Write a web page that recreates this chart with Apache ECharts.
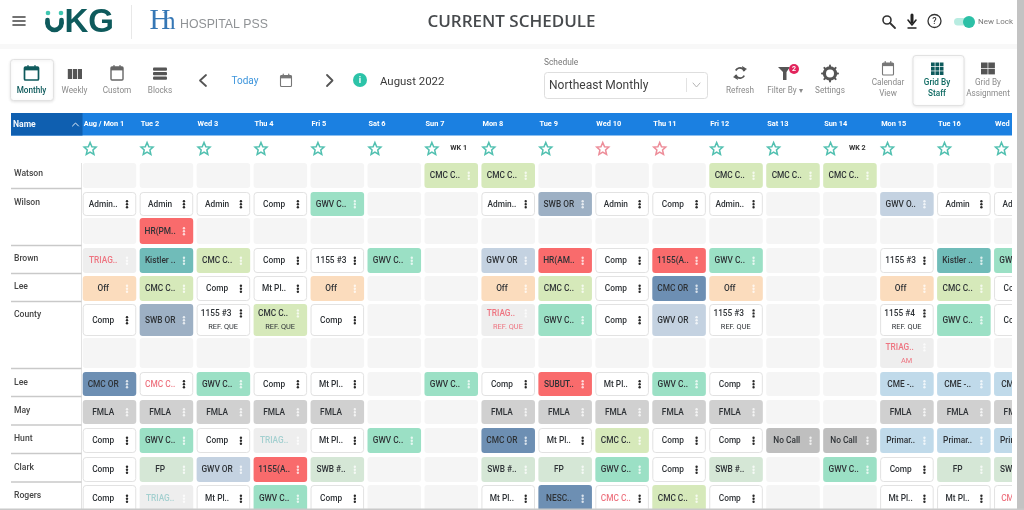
<!DOCTYPE html>
<html><head><meta charset="utf-8">
<style>html,body{margin:0;padding:0;background:#fff;overflow:hidden}#c{width:1024px;height:510px;filter:blur(.45px)}</style>
<script src="https://cdn.jsdelivr.net/npm/echarts@6/dist/echarts.min.js"></script>
</head><body><div id="c"></div>
<script>
// ---------- data ----------
const dayLabels = ['Aug / Mon 1','Tue 2','Wed 3','Thu 4','Fri 5','Sat 6','Sun 7','Mon 8','Tue 9','Wed 10','Thu 11','Fri 12','Sat 13','Sun 14','Mon 15','Tue 16','Wed 17'];
const redStarDays = [9,10];
const weekLabels = [[6,'WK 1'],[13,'WK 2']];
const staffNames = ['Watson','Wilson','','Brown','Lee','County','','Lee','May','Hunt','Clark','Rogers'];
// "!" = flagged red text, "~" = faded teal text
const watson  = ['','','','','','','CMC C..','CMC C..','','','','CMC C..','CMC C..','CMC C..','','',''];
const wilson  = ['Admin..','Admin','Admin','Comp','GWV C..','','','Admin..','SWB OR','Admin','Comp','Admin..','','','GWV O..','Admin','Admin'];
const wilson2 = ['','HR(PM..','','','','','','','','','','','','','','',''];
const brown   = ['!TRIAG..','Kistler ..','CMC C..','Comp','1155 #3','GWV C..','','GWV OR','HR(AM..','Comp','1155(A..','GWV C..','','','1155 #3','Kistler ..','GWV C..'];
const lee     = ['Off','CMC C..','Comp','Mt Pl..','Off','','','Off','CMC C..','Comp','CMC OR','Off','','','Off','CMC C..','Comp'];
const county  = ['Comp','SWB OR','1155 #3|REF. QUE','CMC C..|REF. QUE','Comp','','','!TRIAG..|REF. QUE','GWV C..','Comp','GWV OR','1155 #3|REF. QUE','','','1155 #4|REF. QUE','GWV C..','Comp'];
const county2 = ['','','','','','','','','','','','','','','!TRIAG..|AM','',''];
const lee2    = ['CMC OR','!CMC C..','GWV C..','Comp','Mt Pl..','','GWV C..','Comp','SUBUT..','Mt Pl..','GWV C..','Comp','','','CME -..','CME -..','CME -..'];
const may     = ['FMLA','FMLA','FMLA','FMLA','FMLA','','','FMLA','FMLA','FMLA','FMLA','FMLA','','','FMLA','FMLA','FMLA'];
const hunt    = ['Comp','GWV C..','Comp','~TRIAG..','Mt Pl..','GWV C..','','CMC OR','Mt Pl..','CMC C..','Comp','Comp','No Call','No Call','Primar..','Primar..','Primar..'];
const clark   = ['Comp','FP','GWV OR','1155(A..','SWB #..','','','SWB #..','FP','GWV C..','Comp','SWB #..','','GWV C..','Comp','FP','SWB #..'];
const rogers  = ['Comp','~TRIAG..','Mt Pl..','GWV C..','Comp','','','Mt Pl..','NESC..','!CMC C..','CMC C..','Comp','','','Mt Pl..','Mt Pl..','!CME -..'];
const scheduleRows = [watson,wilson,wilson2,brown,lee,county,county2,lee2,may,hunt,clark,rogers];

// ---------- layout / style ----------
const GT = 135;
const rowBands = [[163,188],[192,216],[218,244],[248,273],[276,301],[304,336],[338,368],[372,396],[400,424],[428,453],[457,482],[485,512]];
const sepY = [188.5,245.5,273.5,301.5,368.5,396.5,425,453.5,482];
const F = 'Roboto, sans-serif';
const fills = [
 [/^GWV C/,'#9be0c5'],[/^(HR|1155\(|SUBUT)/,'#f96b6c'],[/^Kistler/,'#70bcb9'],[/^CMC C/,'#d6e9ba'],
 [/^Off/,'#fbdcbd'],[/^SWB OR/,'#9db0c4'],[/^GWV O/,'#c4d2e1'],[/^(CMC OR|NESC)/,'#6d8fb3'],
 [/^FMLA/,'#d0d0d0'],[/^(FP|SWB #)/,'#d5e7d6'],[/^No Call/,'#bfbfbf'],[/^(CME|Primar)/,'#c0daea'],[/^TRIAG/,'#eeeeee']
];
function fillFor(t){ for(const f of fills) if(f[0].test(t)) return f[1]; return '#ffffff'; }

const cellData=[];
scheduleRows.forEach((r,ri)=>r.forEach((t,ci)=>cellData.push([ci,ri,t])));

function renderCell(params,api){
  const i=params.dataIndex, [col,row,raw]=cellData[i];
  const band=rowBands[row];
  const p0=api.coord([col,band[0]-GT]), p1=api.coord([col+1,band[1]-GT]);
  const x=p0[0], y=p0[1], w=p1[0]-p0[0]-3.4, h=p1[1]-p0[1];
  const kids=[];
  if(raw===''){
    kids.push({type:'rect',shape:{x,y,width:w,height:h,r:3},style:{fill:'#f5f5f5'}});
    return {type:'group',children:kids};
  }
  const mark=raw[0]==='!'?'red':raw[0]==='~'?'teal':null;
  const parts=(mark?raw.slice(1):raw).split('|');
  const triage=/^TRIAG/.test(parts[0]);
  const fill=(mark==='red'&&!triage)?'#ffffff':fillFor(parts[0]);
  const plain=fill==='#ffffff';
  const color=mark==='red'?'#ee7480':mark==='teal'?'#a4d0d0':'#2e3236';
  kids.push({type:'rect',shape:{x:x+(plain?.5:0),y:y+(plain?.5:0),width:w-(plain?1:0),height:h-(plain?1:0),r:3},
    style:{fill,stroke:plain?'#e2e2e2':null,lineWidth:1}});
  const cy=parts.length>1?y+10:y+h/2+.8;
  kids.push({type:'text',style:{x:x+(parts.length>1?19.5:20.5),y:cy,text:parts[0],fill:color,fontSize:8.3,fontFamily:F,fontWeight:500,align:'center',verticalAlign:'middle'}});
  if(parts[1]) kids.push({type:'text',style:{x:x+26.5,y:y+23.5,text:parts[1],fill:color,fontSize:7.4,fontFamily:F,align:'center',verticalAlign:'middle'}});
  const dot=plain?'#2a2a2a':'rgba(255,255,255,.75)';
  [-3,0,3].forEach(d=>kids.push({type:'circle',shape:{cx:x+44.3,cy:cy-.6+d,r:1.2},style:{fill:dot}}));
  return {type:'group',children:kids};
}
function renderName(params,api){
  const ri=params.dataIndex, band=rowBands[ri];
  const p=api.coord([0,band[0]-GT]);
  return {type:'text',style:{x:14,y:p[1]+10.8,text:staffNames[ri],fill:'#454545',fontSize:8.6,fontFamily:F,fontWeight:500,align:'left',verticalAlign:'middle'}};
}
function renderWeek(params,api){
  const w=weekLabels[params.dataIndex];
  const p=api.coord([w[0]+.6,12.8]);
  return {type:'text',style:{x:p[0],y:p[1],text:w[1],fill:'#333',fontSize:7.2,fontFamily:F,fontWeight:700,align:'center',verticalAlign:'middle'}};
}

// ---------- chrome ----------
const g=[];
function R(x,y,w,h,fill,o={}){g.push({type:'rect',silent:true,z:o.z??-1,shape:{x,y,width:w,height:h,r:o.r||0},style:{fill,stroke:o.stroke||null,lineWidth:o.lw||1,shadowBlur:o.sb||0,shadowColor:o.sc||'transparent',shadowOffsetY:o.sy||0}});}
function T(x,y,text,size,fill,o={}){g.push({type:'text',silent:true,z:o.z??5,style:{x,y,text,fill,fontSize:size,fontFamily:o.f||F,fontWeight:o.w||400,align:o.a||'center',verticalAlign:'middle'}});}
function L(pts,stroke,lw=1,o={}){g.push({type:'polyline',silent:true,z:o.z??5,shape:{points:pts},style:{stroke,lineWidth:lw,fill:null,lineCap:'round',lineJoin:'round'}});}
function C(cx,cy,r,fill,o={}){g.push({type:'circle',silent:true,z:o.z??5,shape:{cx,cy,r},style:{fill:fill,stroke:o.stroke||null,lineWidth:o.lw||1}});}
function P(pts,fill){g.push({type:'polygon',silent:true,z:5,shape:{points:pts},style:{fill}});}
function cal(cx,cy,c,w,h,lw){R(cx-w/2,cy-h/2,w,h,'none',{stroke:c,lw,r:1,z:5});R(cx-w/2,cy-h/2,w,h*.26,c,{z:5});
  L([[cx-w*.25,cy-h/2-1.5],[cx-w*.25,cy-h/2+1]],c,1.2);L([[cx+w*.25,cy-h/2-1.5],[cx+w*.25,cy-h/2+1]],c,1.2);}

// top bar
R(0,44,1024,5,'#f8f8f8');
[17,21,25].forEach(y=>L([[13,y],[25,y]],'#444',1.6));
g.push({type:'arc',silent:true,z:5,shape:{cx:54.5,cy:23,r:7,startAngle:0,endAngle:Math.PI,clockwise:true},style:{stroke:'#0e5a5c',lineWidth:4.6,fill:null,lineCap:'round'}});
L([[47.5,20],[47.5,23]],'#0e5a5c',4.6);L([[61.5,20],[61.5,23]],'#0e5a5c',4.6);
C(48,13,2.3,'#3fc6b0');C(61,13,2.3,'#3fc6b0');
T(64.5,22.5,'KG',33,'#0e5a5c',{a:'left',w:700,f:'Liberation Sans'});
R(131,5,1,34,'#e8e8e8',{z:5});
T(149.5,21.5,'H',29,'#3577b5',{a:'left',f:'Liberation Serif'});
T(163,22.5,'h',25,'#3577b5',{a:'left',f:'Liberation Serif'});
T(180,25,'HOSPITAL PSS',12.3,'#8f9295',{a:'left',f:'Liberation Sans'});
T(511.5,22,'CURRENT SCHEDULE',17,'#474a4d',{w:600,f:'Open Sans'});
// right icons
C(887,20,4,'none',{stroke:'#333',lw:1.6});L([[890,23],[895,28]],'#333',1.8);
L([[912,15],[912,22]],'#222',3);L([[908,20],[912,25],[916,20]],'#222',1.6);L([[908,28],[916,28]],'#222',1.4);
C(934.5,21,6.5,'none',{stroke:'#333',lw:1.3});T(934.5,21.5,'?',9,'#333',{w:500});
R(954,18,20,7.5,'#b8ece1',{r:3.7,z:5});C(969,22,6,'#2cc0a6');
T(978,22,'New Lock',8,'#7a7a7a',{a:'left'});
// view buttons
R(10.5,59.5,43,41,'#fff',{stroke:'#e2e2e2',r:3,sb:3,sc:'rgba(0,0,0,.10)',sy:1,z:1});
cal(31.5,73.5,'#0e5a5c',14,13,1.7);
T(31.5,90.5,'Monthly',8.2,'#0e5a5c',{w:500});
[68,73,78].forEach(x=>R(x-.2,69,4.2,10,'#555',{z:5}));
T(74.5,90.5,'Weekly',8.2,'#8a8a8a');
cal(117,73.5,'#666',12,13,1.4);T(117,90.5,'Custom',8.2,'#8a8a8a');
[69,73.5,78].forEach(y=>R(153,y-1.5,14,3.2,'#555',{z:5,r:1}));
T(160,90.5,'Blocks',8.2,'#8a8a8a');
L([[206,75],[200,80.5],[206,86]],'#555',1.8);
T(245,81,'Today',10,'#3d95dc');
cal(286,81,'#777',11,11,1.1);
L([[327,75],[332.5,80.5],[327,86]],'#555',1.8);
C(360,80,7,'#2cc3a8');T(360,80.5,'i',9,'#fff',{w:700});
T(380,82,'August 2022',11.4,'#3a3a3a',{a:'left'});
// schedule select
T(544,63,'Schedule',8.4,'#777',{a:'left'});
R(544.5,72.5,163,26,'#fff',{stroke:'#dedede',r:3,z:1});
T(549,85.5,'Northeast Monthly',12,'#3e3e3e',{a:'left'});
R(686,78,1,14,'#e2e2e2',{z:5});
L([[693,83],[696.5,87],[700,83]],'#b5b5b5',1);
// action icons
g.push({type:'arc',silent:true,z:5,shape:{cx:740,cy:73,r:5,startAngle:-2.6,endAngle:-.4,clockwise:true},style:{stroke:'#555',lineWidth:1.8,fill:null}});
g.push({type:'arc',silent:true,z:5,shape:{cx:740,cy:73,r:5,startAngle:.55,endAngle:2.75,clockwise:true},style:{stroke:'#555',lineWidth:1.8,fill:null}});
P([[742,66],[747,69],[743,71.5]],'#555');P([[738,80],[733,77],[737,74.5]],'#555');
T(740,91,'Refresh',8.2,'#8a8a8a');
P([[778,67],[790,67],[786.5,72],[786.5,80],[783,80],[783,72]],'#555');
C(794,69,5,'#e2245c');T(794,69.3,'2',7,'#fff',{w:700});
T(785,91,'Filter By ▾',8.2,'#8a8a8a');
C(830,73.5,5.6,'none',{stroke:'#555',lw:3.2});
for(let a=0;a<8;a++){const c=Math.cos(a*Math.PI/4),s=Math.sin(a*Math.PI/4);L([[830+6*c,73.5+6*s],[830+8*c,73.5+8*s]],'#555',2);}
T(830,91,'Settings',8.2,'#8a8a8a');
cal(888,69,'#777',11,12,1.1);T(888,83,'Calendar',8.2,'#8a8a8a');T(888,94,'View',8.2,'#8a8a8a');
R(913,55.5,51,50,'#fff',{stroke:'#e2e2e2',r:3,sb:3,sc:'rgba(0,0,0,.08)',sy:1,z:1});
for(let i=0;i<3;i++)for(let j=0;j<3;j++)R(931+i*4.4,62.5+j*4.4,3.7,3.7,'#0e5a5c',{z:5});
T(937,83,'Grid By',8.2,'#0e6a62',{w:500});T(937,94,'Staff',8.2,'#0e6a62',{w:500});
for(let i=0;i<2;i++)for(let j=0;j<2;j++)R(981+i*7.3,62.5+j*6.3,6.6,5.6,'#555',{z:5});
T(988,83,'Grid By',8.2,'#8a8a8a');T(988,94,'Assignment',8.2,'#8a8a8a');
// table head
R(11,113,1001,22.5,'#1b80e1');
R(11,113,71.5,22.5,'#0f5fb0',{z:0});
T(13,124.5,'Name',8.6,'#f2f7fc',{a:'left',w:700});
L([[72.5,126],[75.5,123],[78.5,126]],'#e8f1fa',1);
R(81,163,1,347,'#e2e2e2',{z:1});
sepY.forEach(y=>R(11,y-.7,70.5,1.4,'#c9c9c9',{z:1}));
// right and bottom edges
R(1012,100,12,410,'#fff',{z:50});
R(1017,0,7,510,'#c3c3c3',{z:50});
R(0,508.5,1024,1.5,'#c9c9c9',{z:50});

const chart=echarts.init(document.getElementById('c'),null,{renderer:'canvas'});
chart.setOption({
  animation:false,
  backgroundColor:'#fff',
  graphic:{elements:g},
  grid:{left:82.7,right:12,top:GT,bottom:0,containLabel:false},
  xAxis:{type:'value',position:'top',min:0,max:16.315,interval:1,splitLine:{show:false},axisLine:{show:false},axisTick:{show:false},
    axisLabel:{show:true,color:'#fff',fontSize:7.4,fontWeight:700,fontFamily:F,align:'left',margin:7,padding:[0,0,0,1],showMaxLabel:false,hideOverlap:false,
      formatter:v=>dayLabels[v]||''}},
  yAxis:{type:'value',inverse:true,min:0,max:375,show:false},
  series:[
    {type:'custom',name:'cells',coordinateSystem:'cartesian2d',silent:true,renderItem:renderCell,data:cellData.map(d=>[d[0],d[1]]),encode:{x:0,y:1},z:3},
    {type:'custom',name:'names',coordinateSystem:'cartesian2d',silent:true,renderItem:renderName,data:staffNames.map((n,i)=>[0,i]),z:3},
    {type:'custom',name:'weeks',coordinateSystem:'cartesian2d',silent:true,renderItem:renderWeek,data:weekLabels.map(w=>[w[0],0]),z:3},
    {type:'scatter',name:'stars',silent:true,clip:false,symbol:'path://M12 2 L15 9 L22 9.5 L16.7 14.2 L18.4 21.5 L12 17.6 L5.6 21.5 L7.3 14.2 L2 9.5 L9 9 Z',symbolSize:12,z:3,
      data:dayLabels.map((d,i)=>({value:[i+.13,13.5],itemStyle:{color:'rgba(255,255,255,0)',borderWidth:1.5,borderColor:redStarDays.includes(i)?'#e9707f':'#25b09c'}}))}
  ]
});
</script></body></html>
